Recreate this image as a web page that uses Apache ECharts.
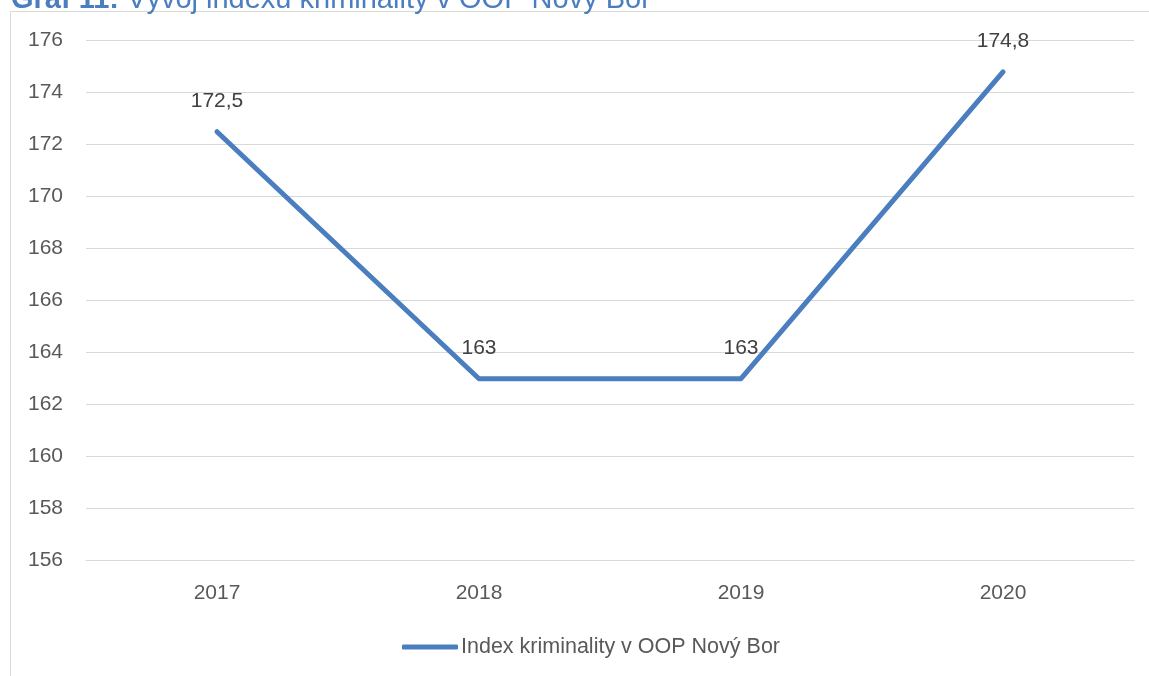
<!DOCTYPE html>
<html>
<head>
<meta charset="utf-8">
<script src="https://cdn.jsdelivr.net/npm/echarts@6/dist/echarts.min.js"></script>
<style>
  html, body { margin: 0; padding: 0; background: #ffffff; }
  #chart { width: 1149px; height: 676px; }
</style>
</head>
<body>
<div id="chart"></div>
<script>
const categories = ['2017', '2018', '2019', '2020'];
const values = [172.5, 163, 163, 174.8];
const seriesName = 'Index kriminality v OOP Nový Bor';
const titleBold = 'Graf 11:';
const titleRest = ' Vývoj indexu kriminality v OOP Nový Bor';

const FONT = '"Liberation Sans", Arial, sans-serif';
const chart = echarts.init(document.getElementById('chart'));
chart.setOption({
  backgroundColor: '#ffffff',
  animation: false,
  graphic: [
    {
      type: 'rect',
      shape: { x: 10.5, y: 11.5, width: 1200, height: 700 },
      style: { fill: 'none', stroke: '#d9d9d9', lineWidth: 1 },
      silent: true,
      z: 0
    },
    {
      type: 'text',
      x: 11,
      y: 0,
      style: {
        text: '{b|' + titleBold + '}{r|' + titleRest + '}',
        verticalAlign: 'middle',
        rich: {
          b: { fontFamily: FONT, fontSize: 29, fontWeight: 'bold', fill: '#4a7ebf' },
          r: { fontFamily: FONT, fontSize: 29, fontWeight: 'normal', fill: '#4a7ebf' }
        }
      },
      z: 10
    }
  ],
  grid: { left: 86, right: 15, top: 40.7, bottom: 115.3, containLabel: false },
  legend: {
    show: true,
    left: 397,
    top: 631,
    icon: 'roundRect',
    itemWidth: 56,
    itemHeight: 5,
    textStyle: { fontFamily: FONT, fontSize: 21.5, color: '#595959', padding: [0, 0, 0, -2] },
    data: [seriesName]
  },
  xAxis: {
    type: 'category',
    data: categories,
    boundaryGap: true,
    axisLine: { show: true, lineStyle: { color: '#d9d9d9', width: 1 } },
    axisTick: { show: false },
    axisLabel: { fontFamily: FONT, fontSize: 21, color: '#595959', margin: 22 },
    splitLine: { show: false }
  },
  yAxis: {
    type: 'value',
    min: 156,
    max: 176,
    interval: 2,
    axisLine: { show: false },
    axisTick: { show: false },
    axisLabel: { fontFamily: FONT, fontSize: 21, color: '#595959', margin: 23 },
    splitLine: { show: true, lineStyle: { color: '#d9d9d9', width: 1 } }
  },
  series: [
    {
      name: seriesName,
      type: 'line',
      data: values,
      showSymbol: true,
      symbol: 'circle',
      symbolSize: 0,
      lineStyle: { color: '#4a7ebf', width: 5, cap: 'round', join: 'round' },
      itemStyle: { color: '#4a7ebf' },
      label: {
        show: true,
        position: 'top',
        distance: 20,
        fontFamily: FONT,
        fontSize: 21,
        color: '#404040',
        formatter: p => String(p.value).replace('.', ',')
      }
    }
  ]
});
</script>
</body>
</html>
